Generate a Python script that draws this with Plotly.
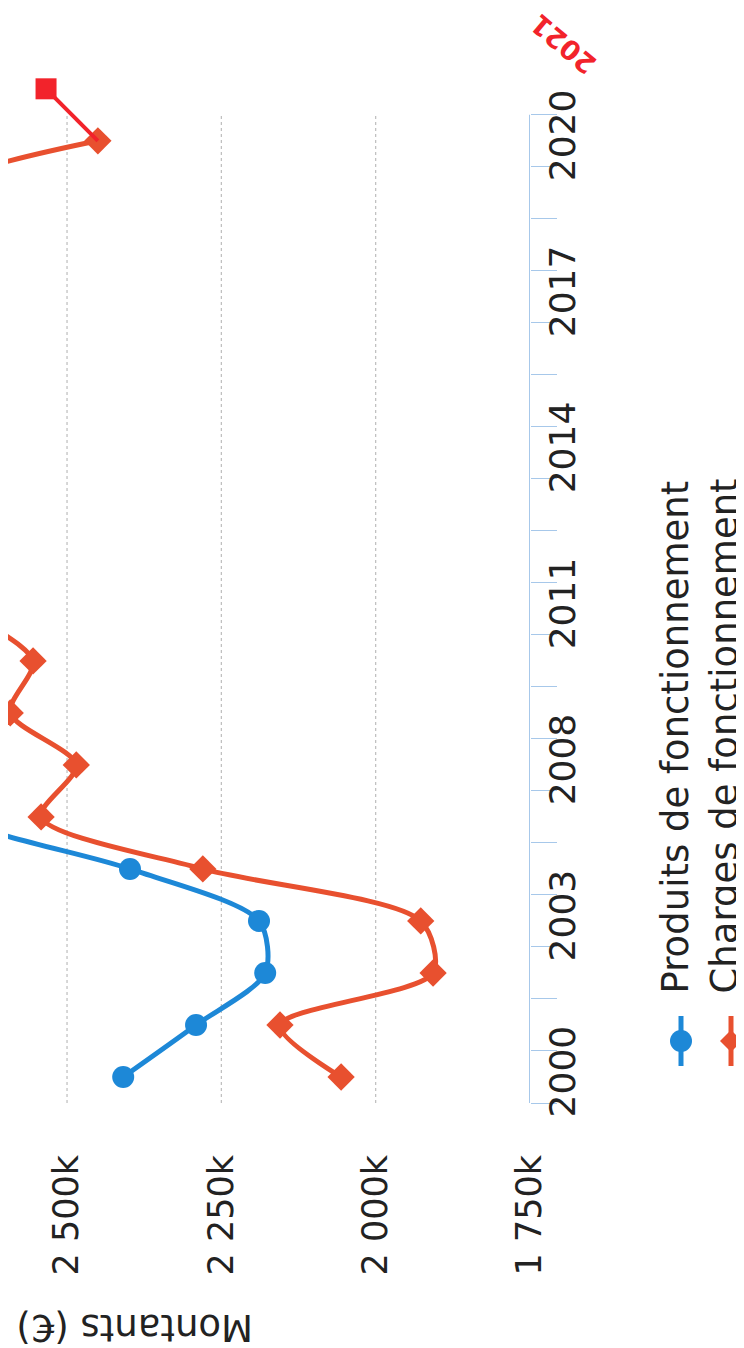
import plotly.graph_objects as go

# ---------------- data ----------------
years = ["2000", "2001", "2002", "2003", "2004", "2007", "2008", "2009", "2010",
         "2011", "2012", "2013", "2014", "2015", "2016", "2017", "2018", "2019", "2020"]
label_years = ["2000", "2003", "2008", "2011", "2014", "2017", "2020"]
produits = [2409, 2291, 2179, 2189, 2398, 2680, 2760, 2800, 2840, 2860,
            2880, 2900, 2920, 2940, 2950, 2960, 2980, 2990, 3000]          # k€
charges = [2056, 2155, 1907, 1927, 2280, 2542, 2485, 2592, 2555, 2660,
           2720, 2760, 2790, 2800, 2810, 2790, 2760, 2730, 2450]           # k€
proj_year = "2021"
charges_2021 = 2534
value_ticks = [1750, 2000, 2250, 2500]
value_labels = ["1 750k", "2 000k", "2 250k", "2 500k"]

# ---------------- styling ----------------
W, H = 744, 1348
PL, PR, PT, PB = 0, 522, 34, 1095          # plot area in pixels
FONT = "DejaVu Sans"
BLUE = "#1d88d7"
RED = "#e8502f"
RED2 = "#f2232b"
AXIS = "#a7c8ea"
TXT = "#222222"

idx = list(range(len(years)))
proj_idx = len(years)


def fx(px):
    return (px - PL) / (PR - PL)


def fy(py):
    return (PB - py) / (PB - PT)


fig = go.Figure()

fig.add_trace(go.Scatter(
    x=produits, y=idx, mode="lines+markers", name="Produits de fonctionnement",
    line=dict(color=BLUE, width=5, shape="spline", smoothing=0.8),
    marker=dict(color=BLUE, size=22, symbol="circle"), showlegend=False))

fig.add_trace(go.Scatter(
    x=charges, y=idx, mode="lines+markers", name="Charges de fonctionnement",
    line=dict(color=RED, width=5, shape="spline", smoothing=0.8),
    marker=dict(color=RED, size=21, symbol="diamond"), showlegend=False))

# projection segment 2020 -> 2021
fig.add_trace(go.Scatter(
    x=[charges[-1], charges_2021], y=[idx[-1], proj_idx], mode="lines",
    line=dict(color=RED2, width=4), showlegend=False))
fig.add_trace(go.Scatter(
    x=[charges_2021], y=[proj_idx], mode="markers",
    marker=dict(color=RED2, size=21, symbol="square"), showlegend=False))

shapes = []
# dotted grid lines
for v in value_ticks[1:]:
    shapes.append(dict(type="line", xref="x", yref="y", x0=v, x1=v, y0=-0.5, y1=len(years) - 0.5,
                       line=dict(color="#bdbdbd", width=1.2, dash="dot"), layer="below"))
# year axis line
shapes.append(dict(type="line", xref="x", yref="y", x0=value_ticks[0], x1=value_ticks[0],
                   y0=-0.5, y1=len(years) - 0.5, line=dict(color=AXIS, width=2)))


# legend glyphs
def legend_glyph(cx, color, kind):
    out = [dict(type="line", xref="paper", yref="paper", x0=fx(cx), x1=fx(cx), y0=fy(1008), y1=fy(1058),
                line=dict(color=color, width=5))]
    r = 11
    if kind == "circle":
        out.append(dict(type="circle", xref="paper", yref="paper", x0=fx(cx - r), x1=fx(cx + r),
                        y0=fy(1033 + r), y1=fy(1033 - r), fillcolor=color, line=dict(color=color, width=0)))
    else:
        path = "M {} {} L {} {} L {} {} L {} {} Z".format(
            fx(cx - r), fy(1033), fx(cx), fy(1033 - r), fx(cx + r), fy(1033), fx(cx), fy(1033 + r))
        out.append(dict(type="path", xref="paper", yref="paper", path=path, fillcolor=color,
                        line=dict(color=color, width=0)))
    return out


shapes += legend_glyph(673, BLUE, "circle")
shapes += legend_glyph(723, RED, "diamond")

annotations = [
    dict(text="Produits de fonctionnement", xref="paper", yref="paper", x=fx(667), y=fy(988),
         xanchor="center", yanchor="bottom", textangle=-90, showarrow=False,
         font=dict(family=FONT, size=37, color=TXT)),
    dict(text="Charges de fonctionnement", xref="paper", yref="paper", x=fx(716), y=fy(988),
         xanchor="center", yanchor="bottom", textangle=-90, showarrow=False,
         font=dict(family=FONT, size=37, color=TXT)),
    dict(text="Montants (€)", xref="paper", yref="paper", x=fx(127), y=fy(1320),
         xanchor="center", yanchor="middle", textangle=180, showarrow=False,
         font=dict(family=FONT, size=37, color=TXT)),
    dict(text="<b>" + proj_year + "</b>", xref="paper", yref="paper", x=fx(556), y=fy(36),
         xanchor="center", yanchor="middle", textangle=-140, showarrow=False,
         font=dict(family=FONT, size=27, color=RED2)),
]

label_pos = [years.index(y) for y in label_years]

fig.update_layout(
    width=W, height=H,
    margin=dict(l=PL, r=W - PR, t=PT, b=H - PB, pad=0),
    paper_bgcolor="white", plot_bgcolor="white",
    shapes=shapes, annotations=annotations,
    showlegend=False,
    xaxis=dict(range=[1750 + (PR - PL) / 0.6173, 1750], tickvals=value_ticks, ticktext=value_labels,
               tickangle=-90, showgrid=False, zeroline=False, showline=False, automargin=False,
               ticks="", ticklabelstandoff=44,
               tickfont=dict(family=FONT, size=35, color=TXT)),
    yaxis=dict(range=[-0.5, 19.9], side="right", tickvals=label_pos, ticktext=label_years,
               tickangle=-90, showgrid=False, zeroline=False, showline=False, ticks="",
               ticklabelstandoff=8, automargin=False,
               minor=dict(tickvals=[i - 0.5 for i in range(len(years) + 1)], ticks="outside",
                          ticklen=26, tickcolor=AXIS, tickwidth=1.2, showgrid=False),
               tickfont=dict(family=FONT, size=36, color=TXT)),
)

fig.write_html("out.html")
